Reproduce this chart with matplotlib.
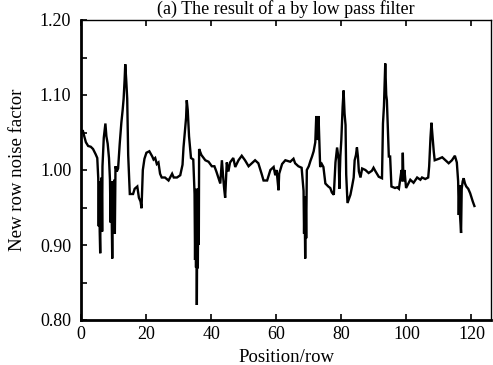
import matplotlib
matplotlib.use("Agg")
import matplotlib.pyplot as plt
from matplotlib.ticker import MultipleLocator

plt.rcParams['font.family'] = ['Liberation Serif', 'DejaVu Serif']

position = [
    0.0, 0.6, 1.0, 1.5, 2.2, 3.0, 3.7, 4.5, 5.0, 5.3, 5.45, 5.6, 5.75, 5.9, 6.05, 6.2, 6.35, 6.5,
    6.6, 7.0, 7.5, 7.8, 8.2, 8.6, 8.9, 9.1, 9.3, 9.5, 9.6, 9.8, 10.0, 10.2, 10.4, 10.6, 11.0,
    11.4, 11.9, 12.4, 12.8, 13.1, 13.4, 13.6, 13.9, 14.2, 14.5, 14.8, 15.0, 16.0, 16.5, 17.3,
    17.8, 18.3, 18.6, 19.0, 19.5, 20.1, 21.0, 21.9, 22.3, 22.8, 23.3, 23.8, 24.3, 24.8, 25.8,
    26.9, 28.0, 28.5, 29.5, 30.5, 31.2, 31.5, 32.0, 32.3, 32.5, 32.8, 33.2, 33.8, 34.5, 34.9,
    35.05, 35.2, 35.35, 35.5, 35.6, 35.75, 35.9, 36.05, 36.2, 36.3, 37.0, 38.2, 39.2, 40.2,
    41.0, 41.6, 42.2, 42.8, 43.3, 43.7, 44.0, 44.3, 44.8, 45.3, 45.8, 46.8, 47.4, 48.4, 49.4,
    50.4, 51.5, 52.5, 53.5, 54.5, 55.5, 56.1, 57.2, 58.2, 59.2, 59.7, 60.1, 60.5, 60.7, 60.9,
    61.8, 62.8, 64.3, 65.3, 65.8, 66.8, 67.8, 68.4, 68.55, 68.7, 68.9, 69.05, 69.2, 69.4, 70.0,
    70.5, 71.0, 71.5, 72.0, 72.3, 72.5, 72.8, 73.0, 73.3, 73.5, 74.0, 74.5, 75.1, 76.0, 76.6,
    77.1, 77.7, 78.2, 78.7, 79.2, 79.4, 79.7, 80.0, 80.4, 80.7, 81.0, 81.3, 81.5, 81.9, 82.8,
    83.3, 83.8, 84.1, 84.5, 84.8, 85.1, 85.4, 85.9, 86.4, 87.4, 88.4, 89.4, 89.9, 90.4, 91.5,
    92.5, 92.8, 93.1, 93.5, 93.8, 94.0, 94.6, 95.0, 95.4, 96.5, 97.2, 97.7, 98.2, 98.5, 98.7,
    98.9, 99.1, 99.4, 99.9, 100.5, 101.2, 102.2, 103.3, 104.3, 104.8, 105.8, 106.7, 107.0,
    107.4, 107.7, 108.0, 108.4, 108.7, 110.0, 111.0, 112.0, 113.0, 114.0, 114.9, 115.5, 115.9,
    116.1, 116.3, 116.5, 116.8, 117.0, 117.3, 117.6, 118.0, 118.4, 119.0, 119.6, 120.4, 120.9,
]

noise_factor = [
    1.052, 1.052, 1.045, 1.037, 1.032, 1.031, 1.028, 1.021, 1.016, 0.989, 0.925, 0.985, 0.918,
    0.889, 0.975, 0.920, 0.990, 0.918,
    1.005, 1.043, 1.062, 1.045, 1.035, 1.016, 0.987, 0.930, 0.985, 0.915, 0.882, 0.985, 0.920,
    0.987, 0.915, 1.005, 0.998,
    1.002, 1.035, 1.063, 1.080, 1.095, 1.120, 1.141, 1.120, 1.095, 1.020, 0.987, 0.968, 0.968,
    0.975, 0.978,
    0.963, 0.958, 0.949, 1.000, 1.015, 1.023, 1.025, 1.018, 1.014, 1.016, 1.008, 1.010, 0.995,
    0.990, 0.990,
    0.986, 0.995, 0.990, 0.990, 0.993, 1.007, 1.030, 1.056, 1.070, 1.093, 1.080, 1.045, 1.016,
    1.014, 0.968,
    0.880, 0.960, 0.870, 0.975, 0.820, 0.960, 0.869, 0.975, 0.900, 1.028, 1.020, 1.013, 1.011,
    1.005,
    1.005, 0.998, 0.990, 0.982, 1.013, 0.990, 0.975, 0.963, 1.010, 0.998, 1.010, 1.016, 1.004,
    1.013, 1.019,
    1.013, 1.005, 1.009, 1.013, 1.009, 0.995, 0.986, 0.986, 1.000, 1.004, 0.993, 1.000, 0.982,
    0.973, 0.995,
    1.008, 1.013, 1.011, 1.015, 1.009, 1.005, 1.003, 0.972, 0.915, 0.965, 0.882, 0.960, 0.909,
    1.000, 1.005,
    1.012, 1.018, 1.025, 1.037, 1.072, 1.050, 1.040, 1.072, 1.030, 1.004, 1.008, 1.004, 0.982,
    0.978, 0.976,
    0.970, 0.967, 1.010, 1.030, 1.013, 0.975, 1.018, 1.040, 1.084, 1.106, 1.075, 1.060, 0.994,
    0.956, 0.967,
    0.978, 0.990, 1.013, 1.020, 1.030, 1.018, 0.998, 0.990, 1.002, 1.000, 0.996, 0.999, 1.003,
    0.999, 0.991,
    0.989, 1.062, 1.085, 1.142, 1.100, 1.093, 1.018, 1.018, 0.978, 0.976, 0.977, 0.975, 0.991,
    1.000, 0.985,
    1.023, 0.985, 1.000, 0.976, 0.981, 0.987, 0.983, 0.990, 0.987, 0.990, 0.988, 0.990, 1.005,
    1.043, 1.063, 1.047, 1.025, 1.013, 1.015, 1.017, 1.013, 1.009, 1.013, 1.019, 1.010, 0.985,
    0.940, 0.980, 0.938, 0.916, 0.975, 0.985, 0.989, 0.982, 0.978, 0.975, 0.969, 0.958, 0.952,
]

x_ticks = [0, 20, 40, 60, 80, 100, 120]
y_ticks = [0.80, 0.90, 1.00, 1.10, 1.20]
y_tick_labels = ["0.80", "0.90", "1.00", "1.10", "1.20"]

fig = plt.figure(figsize=(4.93, 3.65), dpi=100)
ax = fig.add_axes([81 / 493, 45 / 365, 410 / 493, 300 / 365])

ax.plot(position, noise_factor, color="black", linewidth=1.7, solid_joinstyle="miter")

ax.set_xlim(0, 126)
ax.set_ylim(0.80, 1.20)
ax.set_xticks(x_ticks)
ax.set_xticklabels([str(t) for t in x_ticks])
ax.set_yticks(y_ticks)
ax.set_yticklabels(y_tick_labels)
ax.yaxis.set_minor_locator(MultipleLocator(0.05))

ax.tick_params(axis="both", which="both", direction="in", labelsize=13,
               top=True, right=False, width=1.2, colors="black")
ax.tick_params(axis="both", which="major", length=4)
ax.tick_params(axis="y", which="minor", length=4)
ax.tick_params(axis="y", which="major", pad=7)
ax.tick_params(axis="x", which="major", pad=4)

for side in ["left", "bottom"]:
    ax.spines[side].set_linewidth(2.0)
for side in ["top", "right"]:
    ax.spines[side].set_linewidth(1.0)

ax.set_xlabel("Position/row", fontsize=13.5, labelpad=5)
ax.set_ylabel("New row noise factor", fontsize=13.5, labelpad=10)

fig.text(0.58, 0.975, "(a) The result of a by low pass filter", fontsize=13,
         ha="center", va="center")

fig.savefig("out.png", dpi=100)
